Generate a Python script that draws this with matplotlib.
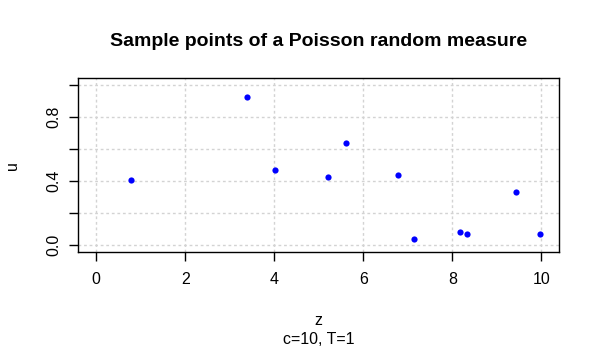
import matplotlib
matplotlib.use('Agg')
import matplotlib.pyplot as plt
import numpy as np

plt.rcParams['font.family'] = ['Liberation Sans', 'DejaVu Sans']

# sample points (z, u)
z = [0.79, 3.39, 4.02, 5.21, 5.62, 6.79, 7.15, 8.18, 8.34, 9.44, 9.96]
u = [0.408, 0.923, 0.471, 0.427, 0.640, 0.439, 0.038, 0.082, 0.069, 0.333, 0.069]

x_ticks = [0, 2, 4, 6, 8, 10]
y_ticks = [0.0, 0.2, 0.4, 0.6, 0.8, 1.0]
y_labels = ['0.0', '', '0.4', '', '0.8', '']

fig = plt.figure(figsize=(6, 3.49), dpi=100)
ax = fig.add_axes([0.1305, 0.2788, 0.8015, 0.4968])

ax.set_xlim(-0.4, 10.4)
ax.set_ylim(-0.04, 1.04)
for xv in x_ticks:
    ax.axvline(xv, color='lightgray', linestyle=(0, (2, 2)), linewidth=1, zorder=1)
for yv in y_ticks:
    ax.axhline(yv, color='lightgray', linestyle=(0, (2, 2)), linewidth=1, zorder=1)

ax.scatter(z, u, s=20, color='blue', zorder=3, linewidths=0)

ax.set_xticks(x_ticks)
ax.set_xticklabels([str(v) for v in x_ticks])
ax.set_yticks(y_ticks)
ax.set_yticklabels(y_labels, rotation=90, va='center')
ax.tick_params(length=6.5, width=1, labelsize=11.5, pad=8)
ax.tick_params(axis='y', pad=6)
for sp in ax.spines.values():
    sp.set_linewidth(1)

ax.set_title('Sample points of a Poisson random measure', fontsize=14,
             fontweight='bold', pad=23)
fig.text(0.531, 0.083, 'z', ha='center', va='center', fontsize=11.5)
fig.text(0.531, 0.028, 'c=10, T=1', ha='center', va='center', fontsize=11.5)
fig.text(0.02, 0.527, 'u', ha='center', va='center', rotation=90, fontsize=11.5)

fig.savefig('out.png', dpi=100)
